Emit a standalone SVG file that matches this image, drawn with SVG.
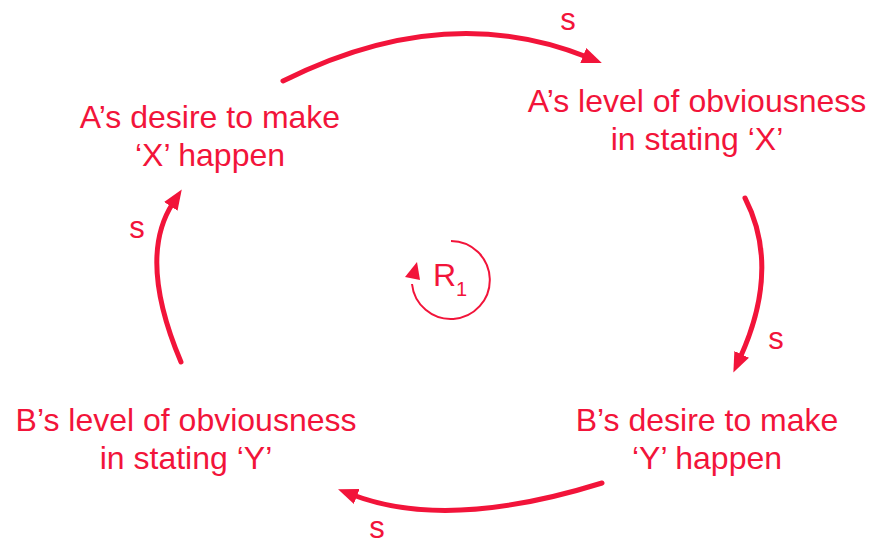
<svg xmlns="http://www.w3.org/2000/svg" width="872" height="545" viewBox="0 0 872 545">
<style>
  text { font-family: "Liberation Sans", Arial, sans-serif; fill: #F2143A; }
  .node { font-size: 32px; text-anchor: middle; }
  .pol { font-size: 31px; text-anchor: middle; }
  .conn { fill: none; stroke: #F2143A; stroke-width: 5; stroke-linecap: round; }
</style>
<defs>
  <marker id="ah" viewBox="0 0 20 16" markerWidth="20" markerHeight="16" markerUnits="userSpaceOnUse" refX="4" refY="8" orient="auto">
    <path d="M0,0 L20,8 L0,16 z" fill="#F2143A"/>
  </marker>
</defs>
<rect width="872" height="545" fill="#FFFFFF"/>

<g id="connectors">
  <path class="conn" d="M283,81 Q445,0 587,57" marker-end="url(#ah)"/>
  <path class="conn" d="M745,198 Q781,268 740,358" marker-end="url(#ah)"/>
  <path class="conn" d="M602,483 Q448,531 353,495" marker-end="url(#ah)"/>
  <path class="conn" d="M181,362 Q137,258 173,203" marker-end="url(#ah)"/>
  <text class="pol" x="568" y="30">s</text>
  <text class="pol" x="776" y="349">s</text>
  <text class="pol" x="377" y="538">s</text>
  <text class="pol" x="137" y="238">s</text>
</g>

<g id="node-a-desire">
  <text class="node" x="210" y="128">A’s desire to make</text>
  <text class="node" x="210" y="166">‘X’ happen</text>
</g>
<g id="node-a-obviousness">
  <text class="node" x="697" y="112">A’s level of obviousness</text>
  <text class="node" x="697" y="150">in stating ‘X’</text>
</g>
<g id="node-b-desire">
  <text class="node" x="707" y="431">B’s desire to make</text>
  <text class="node" x="707" y="469">‘Y’ happen</text>
</g>
<g id="node-b-obviousness">
  <text class="node" x="186" y="431">B’s level of obviousness</text>
  <text class="node" x="186" y="469">in stating ‘Y’</text>
</g>

<g id="loop-r1">
  <path d="M451,241 A39,39 0 1 1 412,284" fill="none" stroke="#F2143A" stroke-width="2"/>
  <polygon points="417,262 405,277 420,280" fill="#F2143A"/>
  <text x="433" y="286" style="font-size:32px">R<tspan dy="10" style="font-size:20px">1</tspan></text>
</g>
</svg>
